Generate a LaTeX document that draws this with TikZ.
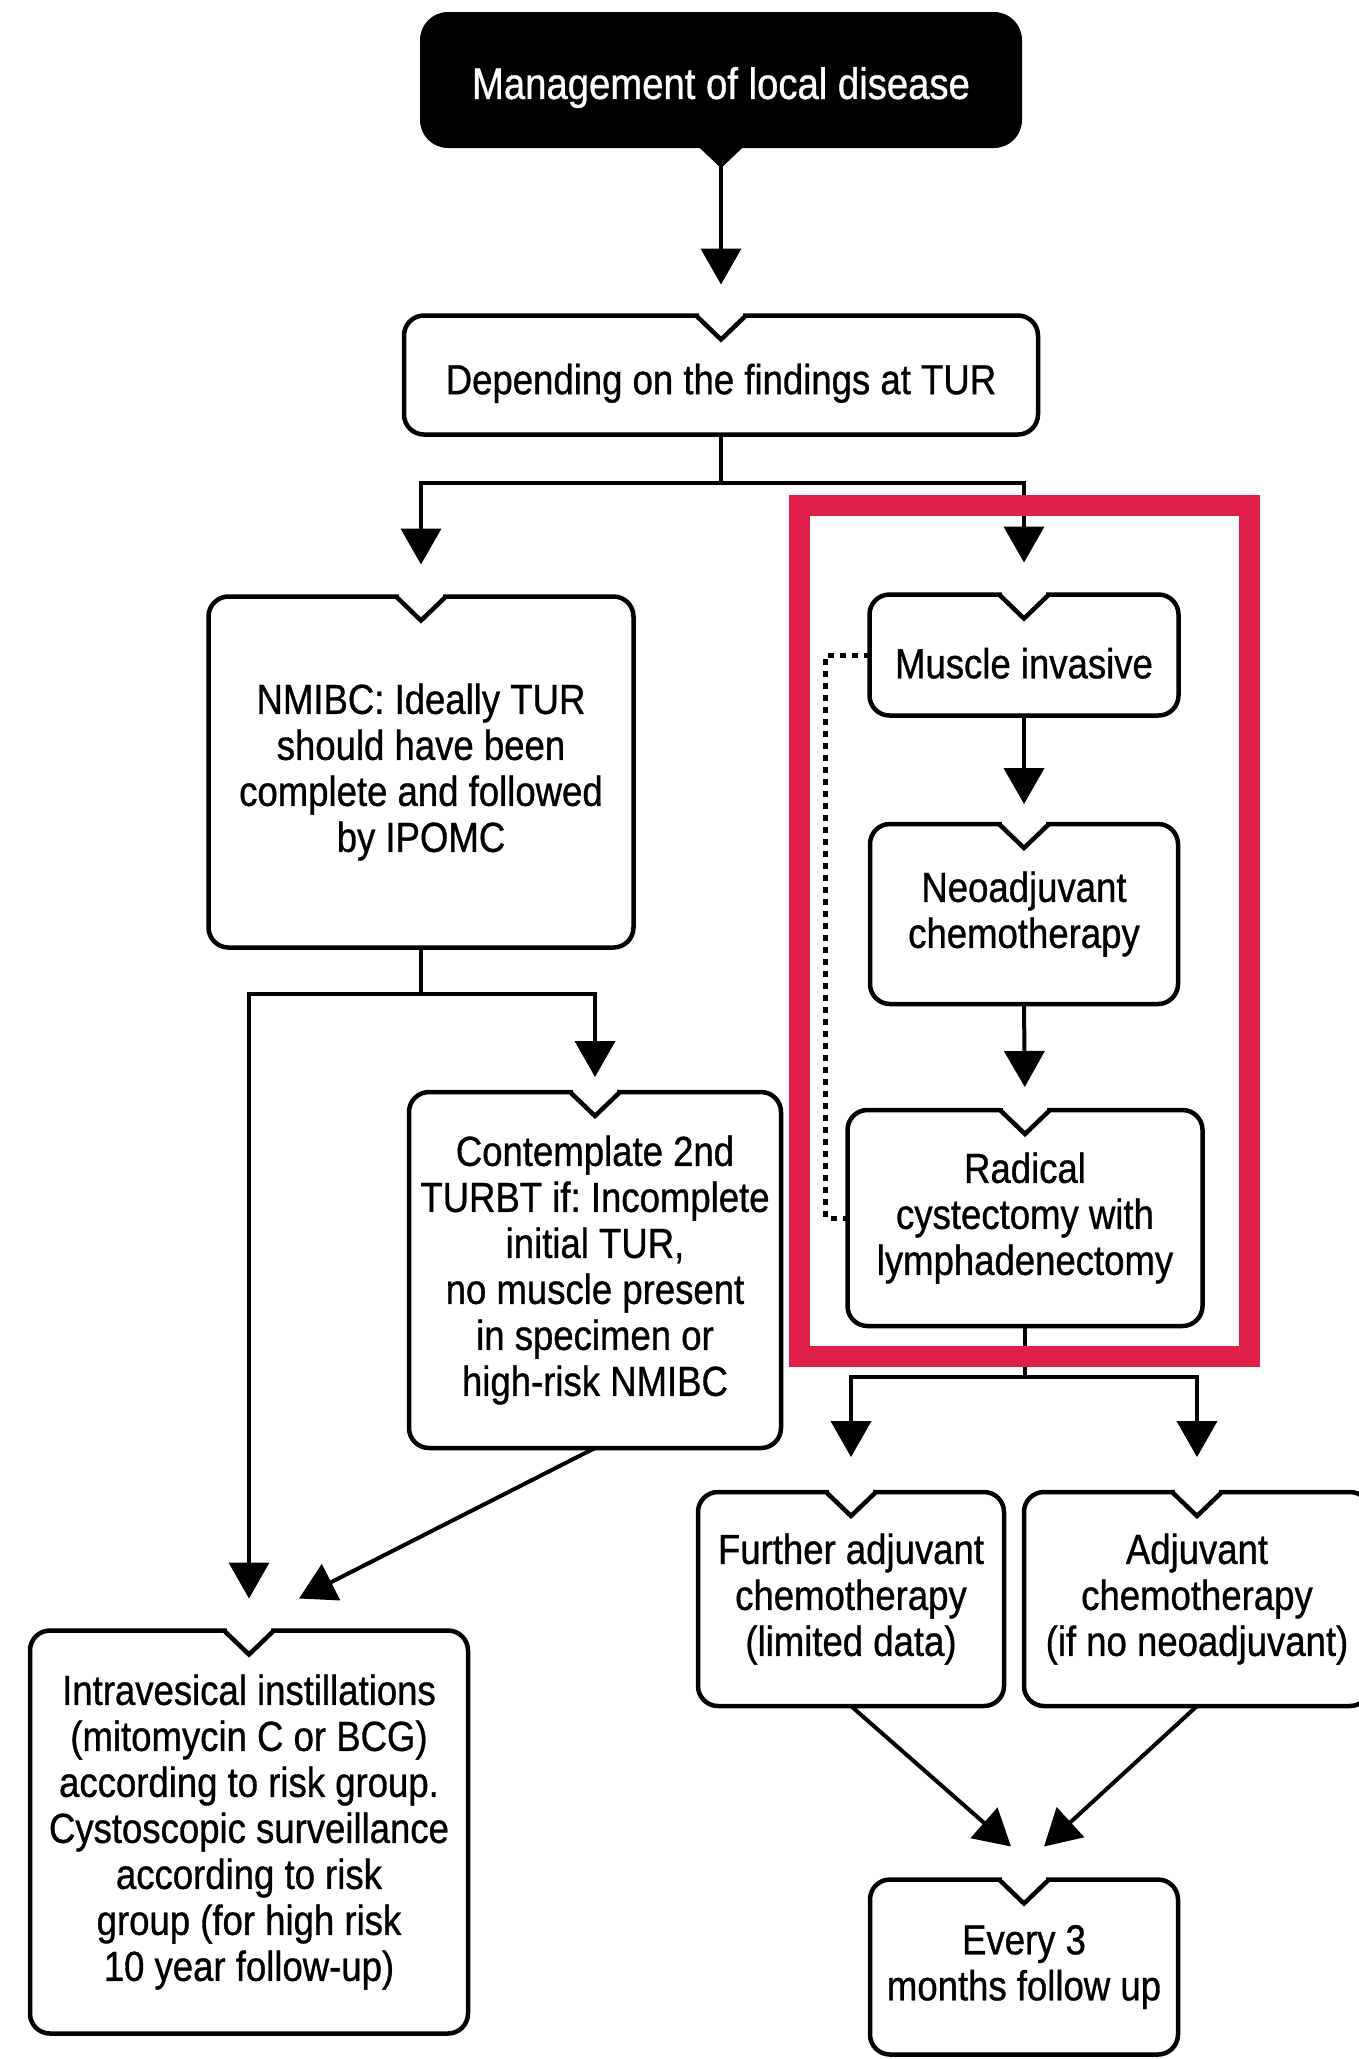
\documentclass[tikz,border=0pt]{standalone}
\usepackage{fontspec}
\setmainfont{Liberation Sans}[FakeStretch=0.87,FakeBold=0.8]
\usetikzlibrary{arrows.meta}
\definecolor{framered}{RGB}{224,32,72}

\newcommand\notch[1]{%
  \fill[white] ([shift={(-22pt,4pt)}]#1.north) rectangle ([shift={(22pt,-4pt)}]#1.north);
  \draw[boxline] ([xshift=-25pt]#1.north) -- ([yshift=-24pt]#1.north) -- ([xshift=25pt]#1.north);}

\begin{document}
\begin{tikzpicture}[x=1pt,y=-1pt,
  txt/.style={font=\fontsize{42}{46}\selectfont\frenchspacing,
    execute at begin node={\rule{0pt}{47pt}}},
  box/.style={txt,draw,line width=4.5pt,rounded corners=20pt,align=center,
    inner sep=0pt,outer sep=0pt},
  topbox/.style={txt,font=\fontsize{44}{46}\selectfont,fill=black,text=white,
    rounded corners=28pt,inner sep=0pt,minimum width=602pt,minimum height=136pt},
  boxline/.style={line width=4.5pt,line join=miter},
  arr/.style={line width=4pt,-{Triangle[width=40pt,length=36pt]}},
  dotline/.style={line width=5pt,dash pattern=on 6pt off 6pt},
  redframe/.style={draw=framered,line width=21pt}]
\useasboundingbox (0,0) rectangle (1358,2059);

\node[topbox] (mgmt) at (721,80) {Management of local disease};
\fill ([shift={(-22pt,1pt)}]mgmt.south) -- ([shift={(22pt,1pt)}]mgmt.south) -- ([yshift=-20pt]mgmt.south) -- cycle;

\node[box,minimum width=634pt,minimum height=119pt] (depend) at (721,375) {Depending on the findings at TUR};
\node[box,minimum width=425pt,minimum height=351pt] (nmibc) at (421,772)
  {NMIBC: Ideally TUR\\should have been\\complete and followed\\by IPOMC};
\node[box,minimum width=309pt,minimum height=121pt] (muscle) at (1024,655) {Muscle invasive};
\node[box,minimum width=308pt,minimum height=180pt] (neo) at (1024,914) {Neoadjuvant\\chemotherapy};
\node[box,minimum width=355pt,minimum height=216pt] (radical) at (1025,1218)
  {Radical\\cystectomy with\\lymphadenectomy};
\node[box,minimum width=372pt,minimum height=356pt] (contemplate) at (595,1270)
  {Contemplate 2nd\\TURBT if: Incomplete\\initial TUR,\\no muscle present\\in specimen or\\high-risk NMIBC};
\node[box,minimum width=438pt,minimum height=403pt] (intra) at (249,1832)
  {Intravesical instillations\\(mitomycin C or BCG)\\according to risk group.\\Cystoscopic surveillance\\according to risk\\group (for high risk\\10 year follow-up)};
\node[box,minimum width=306pt,minimum height=214pt] (further) at (851,1599)
  {Further adjuvant\\chemotherapy\\(limited data)};
\node[box,minimum width=346pt,minimum height=214pt] (adjuv) at (1197,1599)
  {Adjuvant\\chemotherapy\\(if no neoadjuvant)};
\node[box,minimum width=308pt,minimum height=175pt] (every) at (1024,1967)
  {Every 3\\months follow up};

\foreach \n in {depend,nmibc,muscle,neo,radical,contemplate,intra,further,adjuv,every}
  {\notch{\n}}

\draw[arr,shorten >=31pt] (mgmt.south) -- (depend.north);
\draw[arr,shorten >=32pt] (depend.south) -- ++(0,48) -| (nmibc.north);
\draw[arr,shorten >=32pt] (depend.south) -- ++(0,48) -| (muscle.north);
\draw[arr,shorten >=20pt] (muscle.south) -- (neo.north);
\draw[arr,shorten >=23pt] (neo.south) -- (radical.north);
\draw[arr,shorten >=15pt] (nmibc.south) -- ++(0,46) -| (contemplate.north);
\draw[arr,shorten >=32pt] (nmibc.south) -- ++(0,46) -| (intra.north);
\draw[arr] (contemplate.south) -- ([shift={(50pt,32pt)}]intra.north);
\draw[arr,shorten >=35pt] (radical.south) -- ++(0,51) -| (further.north);
\draw[arr,shorten >=35pt] (radical.south) -- ++(0,51) -| (adjuv.north);
\draw[arr] (further.south) -- ([shift={(-13pt,33pt)}]every.north);
\draw[arr] (adjuv.south) -- ([shift={(20pt,33pt)}]every.north);
\draw[dotline] (muscle.west) -- ++(-44,0) |- (radical.west);

\draw[redframe] (799.5,505.5) rectangle (1249.5,1356.5);
\end{tikzpicture}
\end{document}
